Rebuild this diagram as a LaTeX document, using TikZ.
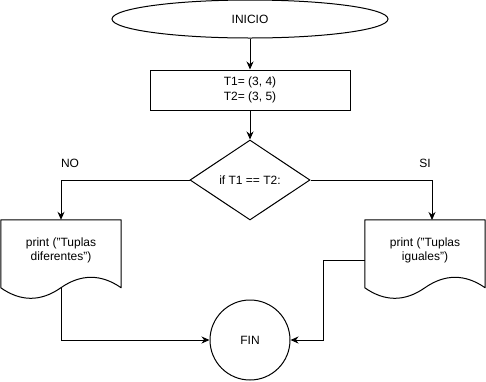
\documentclass[tikz,border=0pt]{standalone}
\usepackage{fontspec}
\setmainfont{Liberation Sans}
\usetikzlibrary{shapes.geometric,arrows.meta,calc}
\begin{document}
\begin{tikzpicture}[x=1pt,y=-1pt,
  font=\fontsize{12}{14.4}\selectfont,
  every node/.style={inner sep=0pt, align=center},
  shapeline/.style={draw=black, line width=1pt},
  flow/.style={draw=black, line width=1pt, -{Stealth[length=8pt,width=7pt]}},
  startbox/.style={shapeline, ellipse, minimum width=276pt, minimum height=38pt},
  procbox/.style={shapeline, rectangle, minimum width=200pt, minimum height=40pt},
  decision/.style={shapeline, diamond, minimum width=120pt, minimum height=80pt, aspect=1.5},
  docframe/.style={rectangle, minimum width=120pt, minimum height=80pt},
  endbox/.style={shapeline, circle, minimum size=80pt}
]
\useasboundingbox (0,0) rectangle (486,381);

% main column
\node[startbox] (inicio) at (250,19) {INICIO};
\node[procbox] (asig) at (250,90) {T1= (3, 4)\\T2= (3, 5)};
\node[decision] (cond) at (250,180) {if T1 == T2:};
\node[endbox] (fin) at (250,340) {FIN};

% output documents (frame nodes carry the anchors)
\node[docframe] (docL) at (61,260) {};
\node[docframe] (docR) at (425,260) {};
\node (txtL) at (61,250.5) {print ("Tuplas\\diferentes")};
\node (txtR) at (425,250.5) {print ("Tuplas\\iguales")};

% document outlines: hump on the right half, trough on the left half
\foreach \d in {docL,docR}{
  \draw[shapeline, line join=round]
    let \p1=(\d.north west), \p2=(\d.south east) in
    (\x1,\y1) -- (\x2,\y1) -- (\x2,{\y1-68})
    .. controls ({\x2-20},{\y1-54}) and ({\x1+80},{\y1-54}) .. ({\x1+60},{\y1-68})
    .. controls ({\x1+40},{\y1-82}) and ({\x1+20},{\y1-82}) .. (\x1,{\y1-68})
    -- cycle;
}

\coordinate (docLout) at (61,288);
\coordinate (docRin) at (432,220);
\coordinate (docRout) at (323,260);

% connectors
\draw[flow] (inicio.south) -- (asig.north);
\draw[flow] (asig.south) -- (cond.north);
\draw[flow] (cond.west) -| (docL.north);
\draw[flow] (cond.east) -| (docRin);
\draw[flow] (docLout) |- (fin.west);
\draw[flow] (docR.west) -- (docRout) |- (fin.east);

% branch labels
\node (no) at (70,163) {NO};
\node (si) at (425,163) {SI};
\end{tikzpicture}
\end{document}
